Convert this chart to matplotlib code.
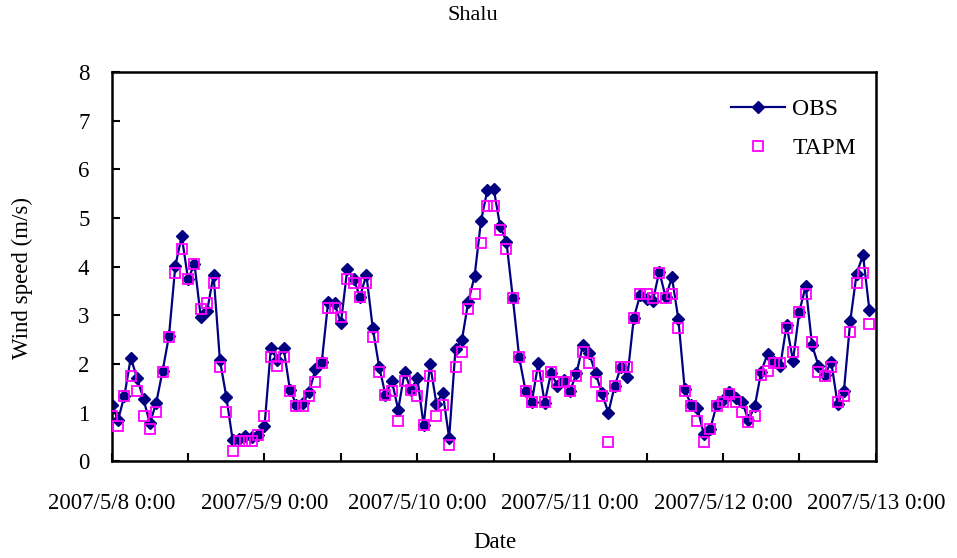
import matplotlib.pyplot as plt
import numpy as np

plt.rcParams['font.family'] = ['Liberation Serif', 'DejaVu Serif']
plt.rcParams['font.size'] = 16.5

# hourly wind speed (m/s), 2007/5/8 0:00 onwards
obs = [1.17, 0.85, 1.35, 2.13, 1.71, 1.28, 0.78, 1.21, 1.86, 2.58,
       4.02, 4.63, 3.74, 4.06, 2.96, 3.10, 3.83, 2.08, 1.33, 0.44,
       0.47, 0.52, 0.50, 0.55, 0.72, 2.33, 2.08, 2.33, 1.47, 1.17,
       1.20, 1.42, 1.90, 2.05, 3.28, 3.25, 2.84, 3.95, 3.75, 3.38,
       3.84, 2.74, 1.95, 1.37, 1.66, 1.06, 1.84, 1.47, 1.71, 0.74,
       2.00, 1.19, 1.41, 0.48, 2.32, 2.49, 3.28, 3.81, 4.94, 5.57,
       5.60, 4.84, 4.51, 3.36, 2.14, 1.45, 1.23, 2.02, 1.21, 1.82,
       1.56, 1.67, 1.45, 1.81, 2.39, 2.22, 1.81, 1.40, 1.00, 1.55,
       1.95, 1.74, 2.95, 3.42, 3.33, 3.30, 3.90, 3.38, 3.78, 2.92,
       1.48, 1.16, 1.09, 0.56, 0.66, 1.16, 1.26, 1.43, 1.30, 1.23,
       0.85, 1.13, 1.84, 2.21, 2.05, 1.96, 2.80, 2.07, 3.08, 3.60,
       2.39, 1.97, 1.78, 2.05, 1.19, 1.45, 2.89, 3.86, 4.24, 3.11]

tapm = [0.94, 0.73, 1.35, 1.76, 1.45, 0.94, 0.66, 1.02, 1.84, 2.56,
        3.88, 4.37, 3.75, 4.06, 3.13, 3.25, 3.66, 1.95, 1.02, 0.22,
        0.43, 0.43, 0.43, 0.54, 0.94, 2.14, 1.96, 2.14, 1.45, 1.14,
        1.14, 1.35, 1.64, 2.03, 3.15, 3.15, 2.96, 3.75, 3.66, 3.37,
        3.66, 2.56, 1.84, 1.37, 1.45, 0.84, 1.65, 1.47, 1.35, 0.74,
        1.76, 0.94, 1.15, 0.34, 1.95, 2.25, 3.13, 3.45, 4.49, 5.25,
        5.25, 4.76, 4.36, 3.36, 2.14, 1.45, 1.23, 1.76, 1.23, 1.84,
        1.63, 1.63, 1.45, 1.76, 2.25, 2.03, 1.64, 1.35, 0.41, 1.55,
        1.95, 1.95, 2.95, 3.45, 3.45, 3.36, 3.88, 3.36, 3.45, 2.75,
        1.45, 1.14, 0.84, 0.41, 0.66, 1.14, 1.23, 1.38, 1.23, 1.02,
        0.82, 0.94, 1.78, 1.85, 2.03, 2.03, 2.75, 2.25, 3.08, 3.45,
        2.46, 1.84, 1.76, 1.95, 1.23, 1.35, 2.65, 3.66, 3.88, 2.82]

date_labels = ["2007/5/8 0:00", "2007/5/9 0:00", "2007/5/10 0:00",
               "2007/5/11 0:00", "2007/5/12 0:00", "2007/5/13 0:00"]

hours = np.arange(len(obs))

fig = plt.figure(figsize=(9.57, 5.58), dpi=100)
ax = fig.add_axes([0.1167, 0.173, 0.7984, 0.698])

ax.plot(hours, obs, color="#000080", linewidth=1.6, marker="D",
        markersize=6.5, label="OBS", zorder=2)
ax.plot(hours, tapm, linestyle="none", marker="s", markersize=7.5,
        markerfacecolor="none", markeredgecolor="#FF00FF",
        markeredgewidth=1.3, label="TAPM", zorder=3)

ax.set_xlim(0, 120)
ax.set_ylim(0, 8)
ax.set_xticks(np.arange(0, 121, 24))
ax.set_xticklabels(date_labels)
ax.set_xticks(np.arange(12, 120, 24), minor=True)
ax.set_yticks(np.arange(0, 9, 1))

ax.tick_params(axis="both", which="both", direction="in", width=1.5,
               length=6)
ax.tick_params(axis="x", which="major", pad=23)
ax.tick_params(axis="y", pad=16)
for s in ax.spines.values():
    s.set_linewidth(1.8)

fig.text(22 / 957, 1 - 278 / 558, "Wind speed (m/s)", rotation=90,
         ha="center", va="center", fontsize=16.5)
fig.text(495 / 957, 1 - 543 / 558, "Date", ha="center", va="center")
fig.text(473 / 957, 1 - 15 / 558, "Shalu", ha="center", va="center",
         fontsize=16)

ax.legend(loc="center left", bbox_to_anchor=(731 / 957, 1 - 129 / 558),
          bbox_transform=fig.transFigure, frameon=False, borderpad=0,
          borderaxespad=0, handlelength=2.3, handletextpad=0.3,
          labelspacing=0.75, fontsize=17)

fig.savefig("out.png", dpi=100)
